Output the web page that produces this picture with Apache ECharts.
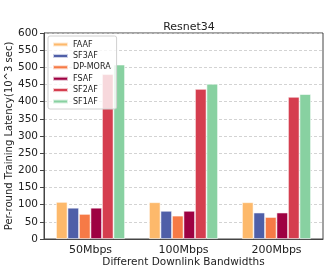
<!DOCTYPE html>
<html><head><meta charset="utf-8">
<script src="https://cdn.jsdelivr.net/npm/echarts@6/dist/echarts.min.js"></script>
<style>html,body{margin:0;padding:0;background:#fff}#c{width:336px;height:269px}</style>
</head><body><div id="c"></div>
<script>
const categories = ['50Mbps', '100Mbps', '200Mbps'];
const seriesNames = ['FAAF', 'SF3AF', 'DP-MORA', 'FSAF', 'SF2AF', 'SF1AF'];
const FAAF = [108, 107, 107];
const SF3AF = [91, 82, 77];
const DPMORA = [73, 68, 64];
const FSAF = [91, 82, 77];
const SF2AF = [480, 437, 414];
const SF1AF = [508, 452, 422];
const yTicks = [0, 50, 100, 150, 200, 250, 300, 350, 400, 450, 500, 550, 600];
const colors = ['#fdb96b', '#4f5fa8', '#f67a46', '#9e0142', '#d53e4f', '#88d1a1'];
const values = [FAAF, SF3AF, DPMORA, FSAF, SF2AF, SF1AF];
const font = 'DejaVu Sans';
const chart = echarts.init(document.getElementById('c'), null, {renderer: 'canvas'});
chart.setOption({
  animation: false,
  textStyle: {fontFamily: font},
  title: {text: 'Resnet34', left: 184, top: 17, textAlign: 'center',
    textStyle: {fontFamily: font, fontSize: 11, fontWeight: 'normal', color: '#222'}},
  legend: {
    orient: 'vertical', left: 48, top: 36, itemWidth: 15, itemHeight: 4, itemGap: 2.4,
    padding: [4, 6, 3, 4], z: 10,
    backgroundColor: 'rgba(255,255,255,0.8)', borderColor: '#d0d0d0', borderWidth: 1, borderRadius: 2,
    textStyle: {fontFamily: font, fontSize: 8, color: '#222', lineHeight: 9},
    icon: 'rect',
    data: seriesNames
  },
  grid: {left: 44, right: 13, top: 33, bottom: 30, containLabel: false, outerBoundsMode: 'none',
    show: true, borderColor: '#444', borderWidth: 1},
  xAxis: {
    type: 'category', data: categories,
    axisLine: {show: true, lineStyle: {color: '#444'}},
    axisTick: {show: false},
    axisLabel: {fontFamily: font, fontSize: 11, color: '#222', margin: 6},
    name: 'Different Downlink Bandwidths', nameLocation: 'middle', nameGap: 18,
    nameMoveOverlap: false,
    nameTextStyle: {fontFamily: font, fontSize: 10.5, color: '#222'}
  },
  yAxis: {
    type: 'value', min: 0, max: 600, interval: 50,
    axisLine: {show: true, lineStyle: {color: '#444'}},
    axisTick: {show: true, length: 4, lineStyle: {color: '#444'}},
    axisLabel: {fontFamily: font, fontSize: 10.5, color: '#222', margin: 6,
      formatter: v => yTicks.includes(v) ? String(v) : ''},
    splitLine: {show: true, lineStyle: {color: '#c8c8c8', type: [3, 2], width: 0.8}},
    name: 'Per-round Training Latency(10^3 sec)', nameLocation: 'middle', nameGap: 30,
    nameMoveOverlap: false,
    nameTextStyle: {fontFamily: font, fontSize: 10, color: '#222'}
  },
  series: seriesNames.map((n, i) => ({
    name: n, type: 'bar', data: values[i], barWidth: 11.5, barGap: '0%',
    itemStyle: {color: colors[i], borderColor: 'rgba(255,255,255,0.7)', borderWidth: 0.8},
    z: 2
  }))
});
</script></body></html>
